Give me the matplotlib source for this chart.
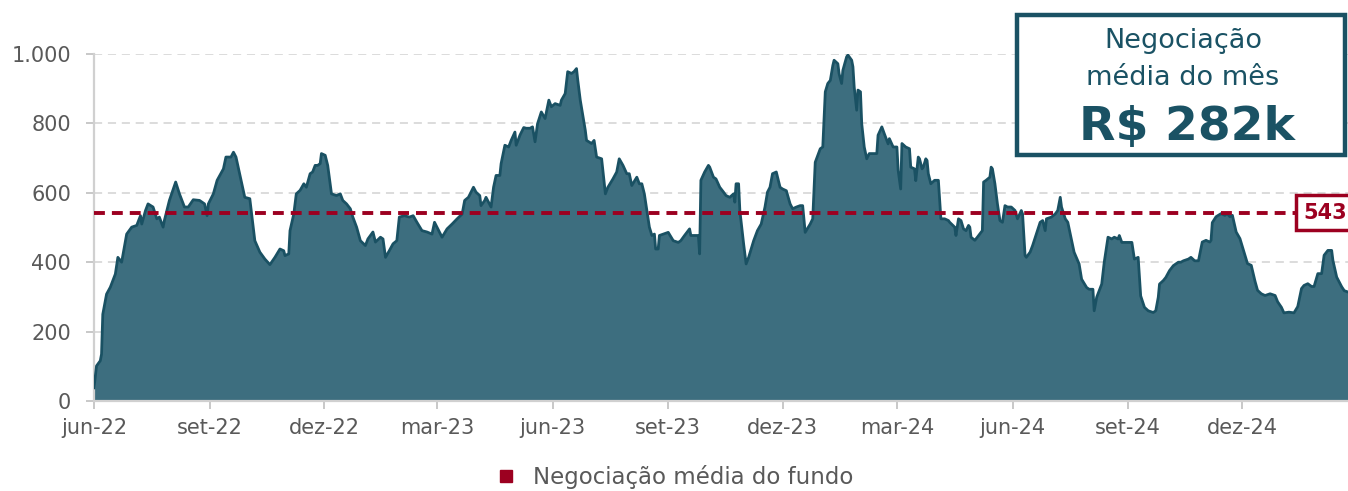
import matplotlib

matplotlib.use("Agg")
import matplotlib.pyplot as plt  # noqa: E402
import matplotlib.patches as mpatches  # noqa: E402
from matplotlib.lines import Line2D  # noqa: E402
from matplotlib.ticker import FuncFormatter  # noqa: E402
import pandas as pd  # noqa: E402

plt.rcParams["font.family"] = ["DejaVu Sans"]

# dias desde 01/06/2022 e negociacao media diaria (R$ mil)
dias = [
    0, 2, 5, 6, 7, 10, 13, 17, 19, 22, 26, 30, 34, 37, 38, 41, 43, 47, 50, 52,
    55, 56, 60, 65, 68, 72, 75, 79, 84, 88, 90, 91, 95, 98, 103, 105, 109, 111,
    113, 117, 120, 124, 127, 128, 132, 136, 140, 144, 148, 151, 152, 155, 156,
    159, 161, 164, 167, 169, 172, 174, 176, 178, 180, 181, 184, 186, 189, 193,
    196, 198, 201, 204, 206, 209, 212, 216, 218, 222, 224, 228, 230, 232, 235,
    238, 241, 243, 247, 251, 254, 257, 261, 265, 269, 271, 275, 277, 281, 285,
    289, 293, 295, 298, 302, 304, 307, 308, 311, 312, 316, 318, 320, 323, 324,
    327, 330, 332, 335, 336, 339, 342, 344, 347, 349, 351, 353, 356, 359, 362,
    364, 367, 371, 372, 375, 377, 380, 382, 384, 385, 387, 391, 392, 396, 398,
    400, 404, 407, 409, 413, 416, 418, 421, 424, 426, 428, 432, 434, 436, 438,
    440, 442, 444, 446, 447, 449, 450, 453, 457, 461, 465, 467, 470, 474, 475,
    478, 481, 482, 483, 486, 489, 490, 493, 495, 498, 501, 503, 506, 509, 510,
    511, 513, 514, 517, 519, 521, 525, 528, 531, 534, 536, 538, 540, 543, 546,
    548, 551, 554, 556, 559, 562, 564, 566, 570, 572, 574, 578, 580, 582, 584,
    586, 588, 589, 592, 593, 595, 596, 599, 600, 603, 604, 605, 607, 608, 610,
    611, 613, 615, 617, 621, 623, 624, 627, 629, 632, 633, 636, 639, 640, 642,
    643, 646, 649, 650, 653, 654, 656, 657, 659, 660, 662, 663, 664, 666, 669,
    672, 674, 677, 680, 681, 685, 686, 688, 690, 692, 694, 696, 697, 698, 701,
    703, 707, 708, 710, 713, 714, 715, 717, 719, 721, 723, 725, 727, 730, 733,
    735, 738, 739, 741, 742, 745, 747, 750, 753, 755, 757, 758, 762, 765, 767,
    769, 770, 773, 775, 777, 780, 784, 786, 790, 792, 795, 796, 798, 802, 804,
    807, 810, 812, 815, 816, 818, 820, 823, 826, 828, 831, 833, 836, 839, 843,
    845, 847, 848, 851, 853, 856, 859, 863, 865, 867, 871, 873, 876, 879, 882,
    885, 888, 889, 890, 893, 897, 900, 902, 904, 906, 909, 912, 914, 918, 921,
    924, 926, 929, 932, 936, 940, 942, 945, 947, 951, 955, 958, 961, 963, 966,
    969, 971, 974, 977, 979, 982, 985, 986, 989, 993, 995, 998,
]
valores = [
    38, 101, 116, 135, 250, 308, 328, 366, 414, 400, 481, 501, 506, 534, 510,
    549, 568, 559, 525, 530, 501, 520, 578, 631, 597, 559, 559, 580, 578, 568,
    534, 568, 597, 636, 669, 703, 703, 717, 703, 636, 587, 583, 491, 462, 429,
    409, 393, 414, 438, 433, 419, 424, 491, 539, 597, 607, 626, 616, 655, 660,
    679, 679, 684, 713, 708, 679, 597, 592, 597, 578, 568, 554, 530, 501, 462,
    448, 467, 487, 458, 472, 467, 414, 433, 453, 462, 530, 534, 530, 534, 515,
    491, 487, 481, 515, 486, 472, 496, 510, 525, 539, 578, 587, 616, 602, 592,
    563, 578, 587, 559, 616, 650, 650, 684, 737, 732, 751, 775, 737, 766, 788,
    786, 786, 790, 747, 799, 833, 814, 867, 848, 857, 852, 867, 886, 949, 944,
    949, 958, 925, 867, 780, 751, 742, 751, 703, 698, 597, 616, 640, 660, 698,
    679, 655, 655, 621, 645, 626, 626, 597, 549, 501, 477, 481, 438, 438, 477,
    481, 486, 462, 457, 462, 477, 496, 477, 477, 477, 424, 636, 660, 679, 674,
    645, 640, 616, 602, 592, 587, 597, 573, 626, 626, 549, 453, 395, 414, 462,
    491, 510, 559, 602, 616, 655, 660, 616, 611, 606, 568, 554, 559, 563, 563,
    486, 510, 525, 688, 727, 732, 891, 915, 924, 967, 982, 972, 943, 915, 953,
    992, 997, 982, 963, 905, 838, 896, 891, 799, 732, 698, 713, 713, 713, 766,
    790, 770, 741, 756, 732, 732, 665, 611, 742, 732, 727, 674, 669, 635, 703,
    698, 669, 674, 698, 693, 655, 626, 636, 636, 525, 525, 520, 515, 501, 477,
    525, 520, 496, 491, 506, 501, 472, 463, 472, 491, 631, 636, 645, 674, 669,
    626, 568, 520, 515, 563, 559, 559, 549, 525, 549, 539, 419, 414, 429, 448,
    481, 515, 520, 491, 525, 530, 539, 549, 587, 559, 525, 515, 481, 429, 395,
    351, 327, 322, 322, 260, 299, 337, 400, 472, 467, 472, 467, 477, 457, 457,
    457, 457, 409, 414, 303, 270, 260, 255, 260, 299, 337, 347, 356, 376, 390,
    400, 400, 404, 409, 414, 404, 404, 458, 463, 458, 463, 514, 531, 540, 535,
    540, 531, 535, 487, 468, 444, 396, 391, 345, 319, 309, 304, 309, 304, 286,
    270, 254, 256, 254, 272, 324, 333, 338, 330, 330, 367, 367, 420, 434, 434,
    405, 357, 329, 318, 314,
]

media_fundo = 543
media_mes = "R$ 282k"
inicio = pd.Timestamp("2022-06-01")
tick_datas = pd.date_range("2022-06-01", "2024-12-01", freq="3MS")
tick_rotulos = ["jun-22", "set-22", "dez-22", "mar-23", "jun-23", "set-23",
                "dez-23", "mar-24", "jun-24", "set-24", "dez-24"]

AREA = "#3d6e7f"
LINHA = "#1a5163"
VERMELHO = "#9c0020"
CINZA = "#595959"
GRADE = "#d9d9d9"
TEAL = "#1a5264"

W, H = 1348, 491
datas = inicio + pd.to_timedelta(dias, unit="D")

fig = plt.figure(figsize=(W / 100, H / 100), dpi=100, facecolor="white")
ax = fig.add_axes([94 / W, 1 - 401 / H, 1 - 94 / W, 347 / H])

ax.fill_between(datas, valores, 0, color=AREA, linewidth=0, zorder=2)
ax.plot(datas, valores, color=LINHA, lw=2.0, zorder=3)
ax.axhline(media_fundo, color=VERMELHO, lw=2.8, dashes=(2.8, 1.8), zorder=4)

ax.set_xlim(datas[0], datas[-1])
ax.set_ylim(0, 1000)
ax.set_yticks(range(0, 1001, 200))
ax.yaxis.set_major_formatter(
    FuncFormatter(lambda v, _: f"{int(v):,}".replace(",", ".")))
ax.set_xticks(tick_datas)
ax.set_xticklabels(tick_rotulos)

ax.grid(axis="y", color=GRADE, lw=1.3, linestyle=(0, (4.5, 3.2)), zorder=1)
for s in ["top", "right"]:
    ax.spines[s].set_visible(False)
for s in ["left", "bottom"]:
    ax.spines[s].set_color("#d0d0d0")
    ax.spines[s].set_linewidth(1.6)
ax.tick_params(axis="both", colors="#c8c8c8", labelcolor=CINZA, labelsize=15,
               length=5.5, width=1.4)
ax.tick_params(axis="x", pad=7)
ax.tick_params(axis="y", pad=11)

# rotulo da media (x em fracao do eixo, y em dados)
ax.text((1303 - 94) / (W - 94), media_fundo, f"{media_fundo}",
        transform=ax.get_yaxis_transform(), ha="left", va="center",
        fontsize=15, fontweight="bold", color=VERMELHO,
        bbox=dict(boxstyle="square,pad=0.35", fc="white", ec=VERMELHO, lw=2.5),
        zorder=6, clip_on=False)

# quadro da media do mes
caixa = mpatches.Rectangle((1017 / W, 1 - 155 / H), (1345 - 1017) / W,
                           140 / H, transform=fig.transFigure, fc="white",
                           ec=TEAL, lw=3.2, zorder=10)
fig.patches.append(caixa)
cx = 1183 / W
fig.text(cx, 1 - 48 / H, "Negociação", ha="center", va="baseline",
         fontsize=19.5, color=TEAL, zorder=11)
fig.text(cx, 1 - 85 / H, "média do mês", ha="center", va="baseline",
         fontsize=19.5, color=TEAL, zorder=11)
fig.text(1187 / W, 1 - 140 / H, media_mes, ha="center", va="baseline",
         fontsize=34, fontweight="bold", color=TEAL, zorder=11)

handle = Line2D([], [], marker="s", color=VERMELHO, linestyle="none", markersize=9)
fig.legend([handle], ["Negociação média do fundo"], loc="center left",
           bbox_to_anchor=(499 / W, 1 - 477 / H), frameon=False, borderpad=0,
           borderaxespad=0, fontsize=16.5, labelcolor=CINZA, handlelength=0.6,
           handletextpad=0.9)

fig.savefig("out.png", dpi=100, facecolor="white")
